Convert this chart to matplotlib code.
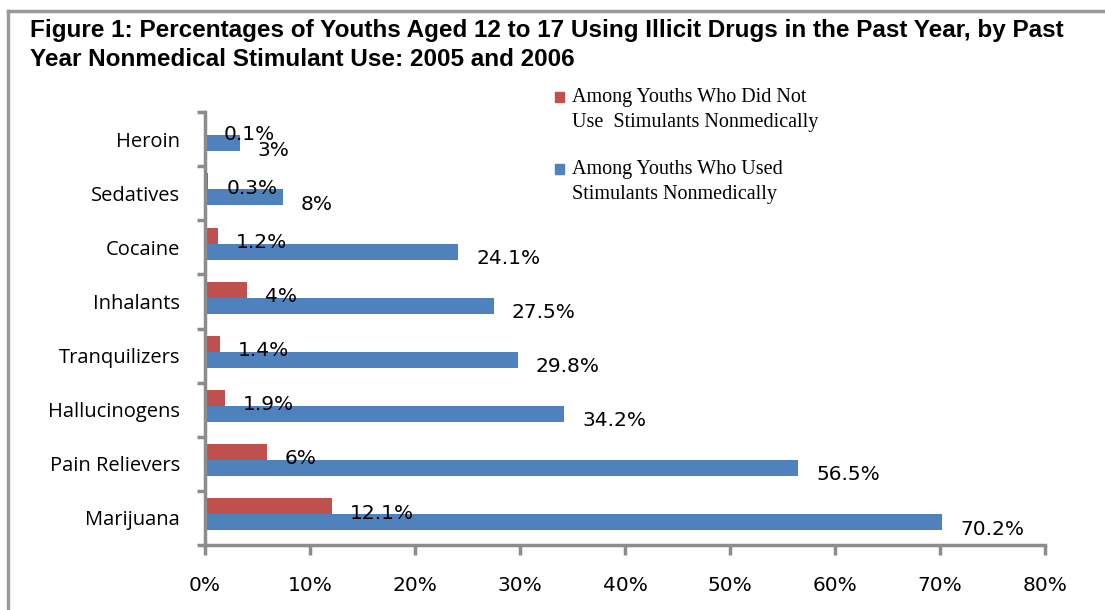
import matplotlib
matplotlib.use('Agg')
import matplotlib.pyplot as plt
from matplotlib.patches import Rectangle
from matplotlib.lines import Line2D
from matplotlib.ticker import FixedLocator, PercentFormatter

# data, bottom to top as drawn
categories = ['Marijuana', 'Pain Relievers', 'Hallucinogens', 'Tranquilizers',
              'Inhalants', 'Cocaine', 'Sedatives', 'Heroin']
not_used = [12.1, 5.9, 1.9, 1.4, 4.0, 1.2, 0.3, 0.1]
not_used_labels = ['12.1%', '6%', '1.9%', '1.4%', '4%', '1.2%', '0.3%', '0.1%']
used = [70.2, 56.5, 34.2, 29.8, 27.5, 24.1, 7.4, 3.3]
used_labels = ['70.2%', '56.5%', '34.2%', '29.8%', '27.5%', '24.1%', '8%', '3%']
xticks = [0, 10, 20, 30, 40, 50, 60, 70, 80]

red = '#C0504D'
blue = '#4F81BD'
grey = '#8C8C8C'

fig = plt.figure(figsize=(11.05, 6.1), dpi=100)
ax = fig.add_axes([205/1105, 1-545/610, 840/1105, 433/610])

h = 0.296
off = 0.07
ypos = list(range(len(categories)))
ax.barh([y + off + h/2 for y in ypos], not_used, height=h, color=red, zorder=2)
ax.barh([y + off - h/2 for y in ypos], used, height=h, color=blue, zorder=2)

for y, v, s in zip(ypos, not_used, not_used_labels):
    ax.annotate(s, (v, y + off + h/2), xytext=(13, -5), textcoords='offset points',
                ha='left', va='center', fontsize=14.5, family='DejaVu Sans')
for y, v, s in zip(ypos, used, used_labels):
    ax.annotate(s, (v, y + off - h/2), xytext=(13, -5), textcoords='offset points',
                ha='left', va='center', fontsize=14.5, family='DejaVu Sans')

ax.set_xlim(0, 80)
ax.set_ylim(-0.5, len(categories) - 0.5)
ax.set_xticks(xticks)
ax.xaxis.set_major_formatter(PercentFormatter(decimals=0))
ax.set_yticks(ypos)
ax.set_yticklabels(categories, family='Open Sans', fontsize=14.5)
ax.yaxis.set_minor_locator(FixedLocator([y + 0.5 for y in range(-1, len(categories))]))
ax.tick_params(axis='y', which='major', length=0, pad=18)
ax.tick_params(axis='y', which='minor', length=6, width=2.5, color=grey)
ax.tick_params(axis='x', length=7, width=2.5, color=grey, pad=15, labelsize=14.5)
for t in ax.get_xticklabels():
    t.set_family('DejaVu Sans')

for side in ['top', 'right']:
    ax.spines[side].set_visible(False)
for side in ['left', 'bottom']:
    ax.spines[side].set_color(grey)
    ax.spines[side].set_linewidth(2.5)

# title
fig.text(30/1105, 1-19/610,
         'Figure 1: Percentages of Youths Aged 12 to 17 Using Illicit Drugs in the Past Year, by Past\n'
         'Year Nonmedical Stimulant Use: 2005 and 2006',
         ha='left', va='top', fontsize=17.5, fontweight='bold',
         family='Liberation Sans', linespacing=1.35)

# legend
legend_items = [(red, 'Among Youths Who Did Not\nUse  Stimulants Nonmedically', 97),
                (blue, 'Among Youths Who Used\nStimulants Nonmedically', 169)]
for c, s, ypx in legend_items:
    fig.patches.append(Rectangle((555/1105, 1-(ypx+4.5)/610), 9/1105, 9/610,
                                 transform=fig.transFigure, color=c))
    fig.text(572/1105, 1-(ypx-9)/610, s, ha='left', va='top', fontsize=14.5,
             family='Liberation Serif', linespacing=1.45)

# frame
fig.add_artist(Line2D([8/1105, 8/1105], [0, 1-11/610], transform=fig.transFigure,
                      color='#999999', lw=2.5))
fig.add_artist(Line2D([8/1105, 1], [1-11/610, 1-11/610], transform=fig.transFigure,
                      color='#999999', lw=2.5))

fig.savefig('out.png', dpi=100)
